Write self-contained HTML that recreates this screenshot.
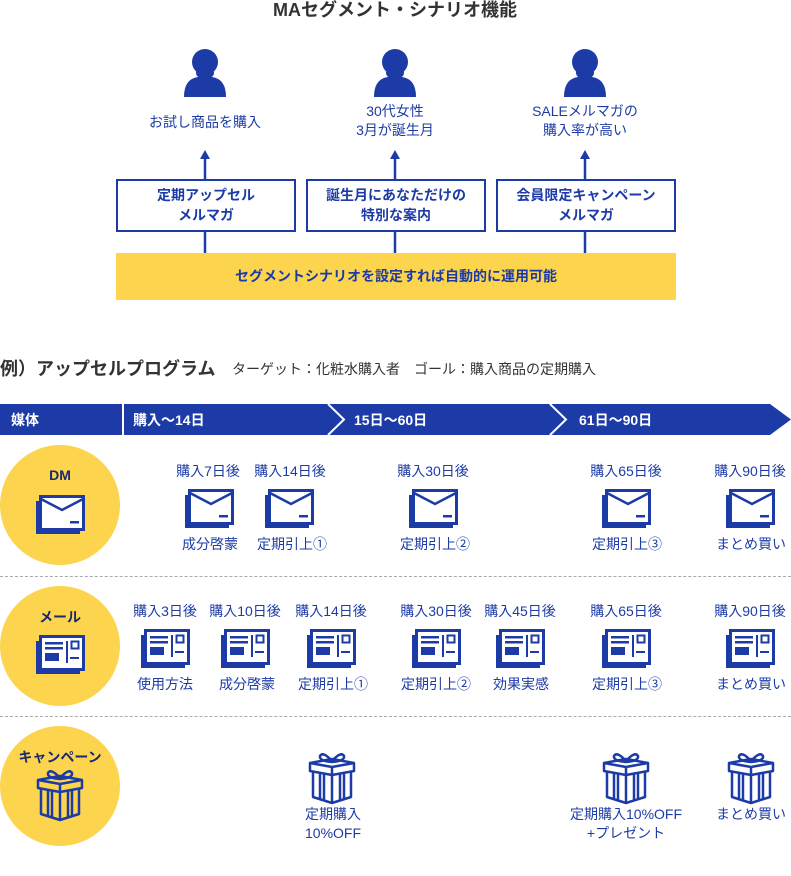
<!DOCTYPE html>
<html><head><meta charset="utf-8"><style>
*{margin:0;padding:0;box-sizing:border-box}
body{width:791px;height:876px;background:#fff;position:relative;overflow:hidden;font-family:"Liberation Sans","Noto Sans CJK JP",sans-serif;color:#1c3ba6}
.a{position:absolute}
.t{position:absolute;white-space:nowrap;font-size:14px;line-height:19px;text-align:center;transform:translateX(-50%)}
.box{position:absolute;border:2px solid #1c3ba6;background:#fff;font-weight:bold;font-size:14px;line-height:20px;text-align:center;padding-top:4px;height:53px}
.circ{position:absolute;width:120px;height:120px;border-radius:50%;background:#fdd44d;left:0}
.ct{position:absolute;width:120px;text-align:center;font-weight:bold;font-size:14px;color:#1a2a6e;left:0}
.sep{position:absolute;left:0;width:791px;border-top:1px dashed #aaa}
</style></head><body>
<svg width="0" height="0" style="position:absolute">
<defs>
<symbol id="person" viewBox="0 0 46 50"><circle cx="23" cy="15" r="13" fill="#1c3ba6"/><path d="M2 50 Q2 32 16 30 L30 30 Q44 32 44 50 Z" fill="#1c3ba6"/><ellipse cx="23" cy="26" rx="9" ry="6" fill="#1c3ba6"/></symbol>
<symbol id="env" viewBox="0 0 50 40"><rect x="1" y="6" width="44" height="33" fill="#1c3ba6"/><rect x="5.5" y="1.5" width="43" height="33" fill="#fff" stroke="#1c3ba6" stroke-width="3"/><path d="M6 4 L27 15 L48 4" fill="none" stroke="#1c3ba6" stroke-width="2.5"/><rect x="35" y="26" width="9" height="2.5" fill="#1c3ba6"/></symbol>
<symbol id="card" viewBox="0 0 50 40"><rect x="1" y="6" width="44" height="33" fill="#1c3ba6"/><rect x="5.5" y="1.5" width="43" height="33" fill="#fff" stroke="#1c3ba6" stroke-width="3"/><rect x="10" y="7" width="18" height="2.5" fill="#1c3ba6"/><rect x="10" y="12" width="18" height="2.5" fill="#1c3ba6"/><rect x="10" y="18" width="14" height="8" fill="#1c3ba6"/><rect x="31" y="6" width="2" height="22" fill="#1c3ba6"/><rect x="36.5" y="6.5" width="7" height="7" fill="none" stroke="#1c3ba6" stroke-width="2"/><rect x="35" y="22" width="9" height="2" fill="#1c3ba6"/></symbol>
<symbol id="gift" viewBox="0 0 50 54"><g fill="none" stroke="#1c3ba6" stroke-width="2.5" stroke-linejoin="round"><path d="M25 10 Q16 0 13 5 Q12 10 25 11 Q38 10 37 5 Q34 0 25 10Z"/><path d="M3 12 L25 8 L47 12 L47 20 L25 24 L3 20 Z"/><path d="M3 12 L25 16 L47 12 M25 16 L25 24"/><path d="M6 21 L6 46 L25 52 L44 46 L44 21"/><path d="M25 24 L25 52"/><path d="M13 22 L13 48 M17 23 L17 49 M33 23 L33 49 M37 22 L37 48"/></g></symbol>
</defs></svg>

<div class="t" style="left:395px;top:-1px;font-size:18px;line-height:22px;font-weight:bold;color:#333">MAセグメント・シナリオ機能</div>

<svg class="a" style="left:182px;top:47px" width="46" height="50"><use href="#person"/></svg>
<svg class="a" style="left:372px;top:47px" width="46" height="50"><use href="#person"/></svg>
<svg class="a" style="left:562px;top:47px" width="46" height="50"><use href="#person"/></svg>
<div class="t" style="left:205px;top:113px">お試し商品を購入</div>
<div class="t" style="left:395px;top:102px">30代女性<br>3月が誕生月</div>
<div class="t" style="left:585px;top:102px">SALEメルマガの<br>購入率が高い</div>

<svg class="a" style="left:0;top:0" width="791" height="300">
<g stroke="#1c3ba6" stroke-width="2.5">
<line x1="205" y1="156" x2="205" y2="180"/><line x1="395" y1="156" x2="395" y2="180"/><line x1="585" y1="156" x2="585" y2="180"/>
<line x1="205" y1="232" x2="205" y2="253"/><line x1="395" y1="232" x2="395" y2="253"/><line x1="585" y1="232" x2="585" y2="253"/>
</g>
<g fill="#1c3ba6"><path d="M200 159 L205 150 L210 159Z"/><path d="M390 159 L395 150 L400 159Z"/><path d="M580 159 L585 150 L590 159Z"/></g>
</svg>
<div class="box" style="left:116px;top:179px;width:180px">定期アップセル<br>メルマガ</div>
<div class="box" style="left:306px;top:179px;width:180px">誕生月にあなただけの<br>特別な案内</div>
<div class="box" style="left:496px;top:179px;width:180px">会員限定キャンペーン<br>メルマガ</div>
<div class="a" style="left:116px;top:253px;width:560px;height:47px;background:#fdd44d;text-align:center;font-weight:bold;font-size:14px;line-height:47px">セグメントシナリオを設定すれば自動的に運用可能</div>

<div class="a" style="left:0;top:357px;font-size:18px;font-weight:bold;color:#333;white-space:nowrap;line-height:24px">例）アップセルプログラム</div>
<div class="a" style="left:232px;top:360px;font-size:14px;color:#333;white-space:nowrap;line-height:19px">ターゲット：化粧水購入者　ゴール：購入商品の定期購入</div>

<svg class="a" style="left:0;top:404px" width="791" height="32">
<path d="M0 0 L770 0 L791 15.5 L770 31 L0 31Z" fill="#1c3ba6"/>
<line x1="123" y1="0" x2="123" y2="31" stroke="#fff" stroke-width="2"/>
<polyline points="328,0 344,15.5 328,31" fill="none" stroke="#fff" stroke-width="2"/>
<polyline points="550,0 566,15.5 550,31" fill="none" stroke="#fff" stroke-width="2"/>
<g fill="#fff" font-size="14" font-weight="bold" font-family="Liberation Sans,Noto Sans CJK JP,sans-serif">
<text x="11" y="21">媒体</text><text x="133" y="21">購入〜14日</text><text x="354" y="21">15日〜60日</text><text x="579" y="21">61日〜90日</text></g>
</svg>

<div class="circ" style="top:445px"></div>
<div class="ct" style="top:467px">DM</div>
<svg class="a" style="left:35px;top:495px" width="50" height="40"><use href="#env"/></svg>
<div class="sep" style="top:576px"></div>
<div class="circ" style="top:586px"></div>
<div class="ct" style="top:607px">メール</div>
<svg class="a" style="left:35px;top:635px" width="50" height="40"><use href="#card"/></svg>
<div class="sep" style="top:716px"></div>
<div class="circ" style="top:726px"></div>
<div class="ct" style="top:747px">キャンペーン</div>
<svg class="a" style="left:35px;top:768px" width="50" height="54"><use href="#gift"/></svg>

<div class="t" style="left:208px;top:462px">購入7日後</div>
<div class="t" style="left:290px;top:462px">購入14日後</div>
<div class="t" style="left:433px;top:462px">購入30日後</div>
<div class="t" style="left:626px;top:462px">購入65日後</div>
<div class="t" style="left:750px;top:462px">購入90日後</div>
<svg class="a" style="left:184px;top:489px" width="50" height="40"><use href="#env"/></svg>
<svg class="a" style="left:264px;top:489px" width="50" height="40"><use href="#env"/></svg>
<svg class="a" style="left:408px;top:489px" width="50" height="40"><use href="#env"/></svg>
<svg class="a" style="left:601px;top:489px" width="50" height="40"><use href="#env"/></svg>
<svg class="a" style="left:725px;top:489px" width="50" height="40"><use href="#env"/></svg>
<div class="t" style="left:210px;top:535px">成分啓蒙</div>
<div class="t" style="left:292px;top:535px">定期引上①</div>
<div class="t" style="left:435px;top:535px">定期引上②</div>
<div class="t" style="left:627px;top:535px">定期引上③</div>
<div class="t" style="left:751px;top:535px">まとめ買い</div>

<div class="t" style="left:165px;top:602px">購入3日後</div>
<div class="t" style="left:245px;top:602px">購入10日後</div>
<div class="t" style="left:331px;top:602px">購入14日後</div>
<div class="t" style="left:436px;top:602px">購入30日後</div>
<div class="t" style="left:520px;top:602px">購入45日後</div>
<div class="t" style="left:626px;top:602px">購入65日後</div>
<div class="t" style="left:750px;top:602px">購入90日後</div>
<svg class="a" style="left:140px;top:629px" width="50" height="40"><use href="#card"/></svg>
<svg class="a" style="left:220px;top:629px" width="50" height="40"><use href="#card"/></svg>
<svg class="a" style="left:306px;top:629px" width="50" height="40"><use href="#card"/></svg>
<svg class="a" style="left:411px;top:629px" width="50" height="40"><use href="#card"/></svg>
<svg class="a" style="left:495px;top:629px" width="50" height="40"><use href="#card"/></svg>
<svg class="a" style="left:601px;top:629px" width="50" height="40"><use href="#card"/></svg>
<svg class="a" style="left:725px;top:629px" width="50" height="40"><use href="#card"/></svg>
<div class="t" style="left:165px;top:675px">使用方法</div>
<div class="t" style="left:247px;top:675px">成分啓蒙</div>
<div class="t" style="left:333px;top:675px">定期引上①</div>
<div class="t" style="left:436px;top:675px">定期引上②</div>
<div class="t" style="left:521px;top:675px">効果実感</div>
<div class="t" style="left:627px;top:675px">定期引上③</div>
<div class="t" style="left:751px;top:675px">まとめ買い</div>

<svg class="a" style="left:307px;top:751px" width="50" height="54"><use href="#gift"/></svg>
<svg class="a" style="left:601px;top:751px" width="50" height="54"><use href="#gift"/></svg>
<svg class="a" style="left:726px;top:751px" width="50" height="54"><use href="#gift"/></svg>
<div class="t" style="left:333px;top:805px">定期購入<br>10%OFF</div>
<div class="t" style="left:626px;top:805px">定期購入10%OFF<br>+プレゼント</div>
<div class="t" style="left:751px;top:805px">まとめ買い</div>
</body></html>
